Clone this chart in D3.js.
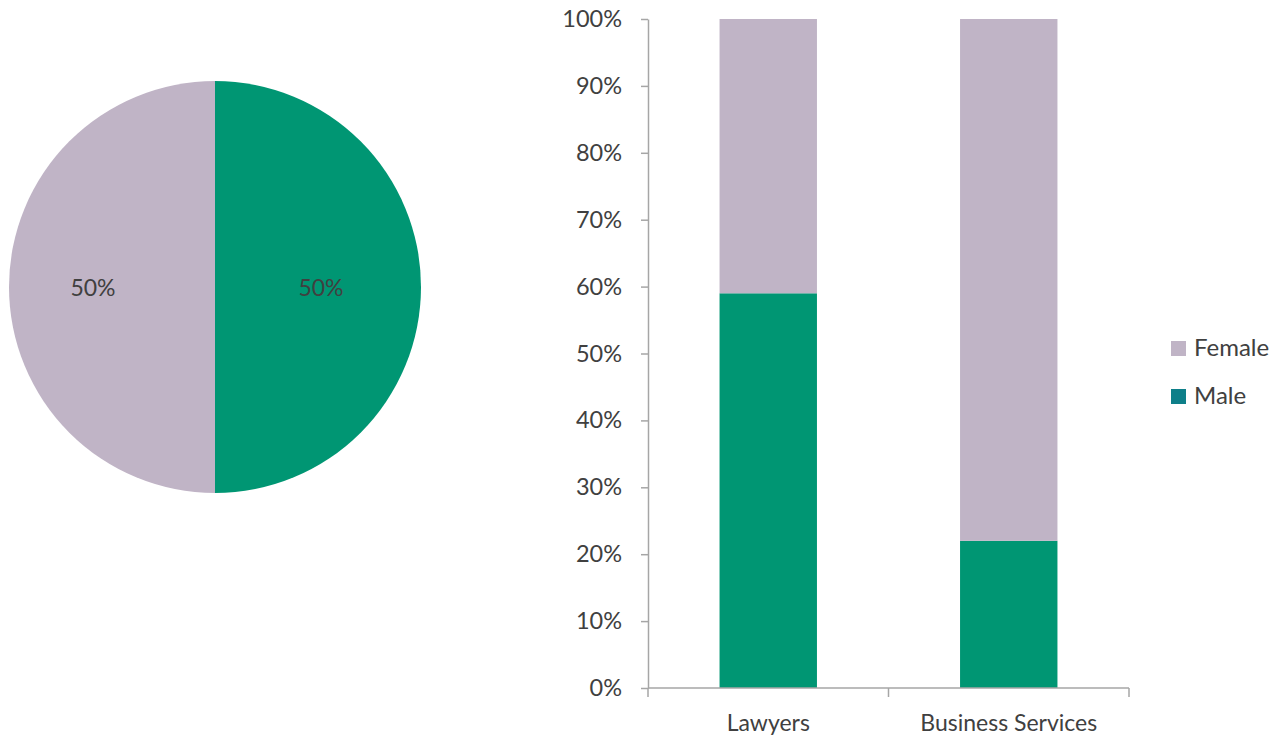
<!DOCTYPE html>
<html>
<head>
<meta charset="utf-8">
<script src="https://cdn.jsdelivr.net/npm/d3@7"></script>
<style>
  html, body { margin: 0; padding: 0; background: #fff; }
  svg { display: block; font-family: Lato, "Open Sans", sans-serif; }
</style>
</head>
<body>
<svg id="chart" width="1287" height="736"></svg>
<script>
// ---- data ----
const pieLabels = ["Male", "Female"];
const pieValues = [50, 50];

const categories = ["Lawyers", "Business Services"];
const maleValues = [59, 22];
const femaleValues = [41, 78];

const yTicks = [0, 10, 20, 30, 40, 50, 60, 70, 80, 90, 100];
const legendLabels = ["Female", "Male"];

// ---- styles ----
const GREEN = "#009673";
const LAVENDER = "#c0b4c6";
const LEGEND_MALE = "#0e7f89";
const TEXT = "#404040";
const AXIS = "#a6a6a6";

const svg = d3.select("#chart");

// ---- pie ----
const pieCx = 215, pieCy = 287, pieR = 206;
const pieG = svg.append("g").attr("transform", `translate(${pieCx},${pieCy})`);
const pie = d3.pie().sort(null).value(d => d.v);
const pieData = pie(pieLabels.map((l, i) => ({ l, v: pieValues[i] })));
const arc = d3.arc().innerRadius(0).outerRadius(pieR);
const labelArc = d3.arc().innerRadius(114).outerRadius(114);

pieG.selectAll("path")
  .data(pieData)
  .join("path")
  .attr("d", arc)
  .attr("fill", d => d.data.l === "Male" ? GREEN : LAVENDER);

pieG.selectAll("text")
  .data(pieData)
  .join("text")
  .attr("x", d => labelArc.centroid(d)[0] - 8)
  .attr("y", d => labelArc.centroid(d)[1])
  .attr("text-anchor", "middle")
  .attr("dominant-baseline", "central")
  .attr("fill", TEXT)
  .attr("font-size", 23)
  .text(d => d.data.v + "%");

// ---- stacked bars ----
const x0 = 648, x1 = 1129, yTop = 19, yBot = 688;
const x = d3.scaleBand().domain(categories).range([x0, x1]).padding(0);
const y = d3.scaleLinear().domain([0, 100]).range([yBot, yTop]);
const barW = x.bandwidth() * 0.405;

const stackRows = categories.map((c, i) => ({ cat: c, Male: maleValues[i], Female: femaleValues[i] }));
const stack = d3.stack().keys(["Male", "Female"]);
const series = stack(stackRows);

const barG = svg.append("g");
barG.selectAll("g")
  .data(series)
  .join("g")
  .attr("fill", d => d.key === "Male" ? GREEN : LAVENDER)
  .selectAll("rect")
  .data(d => d)
  .join("rect")
  .attr("x", d => x(d.data.cat) + (x.bandwidth() - barW) / 2)
  .attr("width", barW)
  .attr("y", d => y(d[1]))
  .attr("height", d => y(d[0]) - y(d[1]));

// y axis
const yAxis = d3.axisLeft(y)
  .tickValues(yTicks)
  .tickFormat(d => d + "%")
  .tickSizeInner(7)
  .tickSizeOuter(0)
  .tickPadding(19);
const yAxG = svg.append("g").attr("transform", `translate(${x0},0)`).call(yAxis);
yAxG.select(".domain").attr("stroke", AXIS).attr("stroke-width", 1.5);
yAxG.selectAll(".tick line").attr("stroke", AXIS).attr("stroke-width", 1.5);
yAxG.selectAll(".tick text").attr("fill", TEXT).attr("font-size", 23.5).attr("font-family", "Lato, sans-serif");

// x axis
const xAxG = svg.append("g").attr("transform", `translate(0,${yBot})`);
xAxG.append("line")
  .attr("x1", x0).attr("x2", x1).attr("y1", 0).attr("y2", 0)
  .attr("stroke", AXIS).attr("stroke-width", 1.5);
const bounds = categories.map(c => x(c)).concat([x1]);
xAxG.selectAll("line.xt")
  .data(bounds)
  .join("line")
  .attr("class", "xt")
  .attr("x1", d => d).attr("x2", d => d)
  .attr("y1", 0).attr("y2", 9)
  .attr("stroke", AXIS).attr("stroke-width", 1.5);
xAxG.selectAll("text")
  .data(categories)
  .join("text")
  .attr("x", d => x(d) + x.bandwidth() / 2)
  .attr("y", 43)
  .attr("text-anchor", "middle")
  .attr("fill", TEXT)
  .attr("font-size", 23)
  .text(d => d);

// ---- legend ----
const legG = svg.append("g").attr("transform", "translate(1171,341)");
const leg = legG.selectAll("g")
  .data(legendLabels)
  .join("g")
  .attr("transform", (d, i) => `translate(0,${i * 48})`);
leg.append("rect")
  .attr("width", 15).attr("height", 15)
  .attr("fill", d => d === "Male" ? LEGEND_MALE : LAVENDER);
leg.append("text")
  .attr("x", 23).attr("y", 15)
  .attr("fill", TEXT)
  .attr("font-size", 24)
  .text(d => d);
</script>
</body>
</html>
